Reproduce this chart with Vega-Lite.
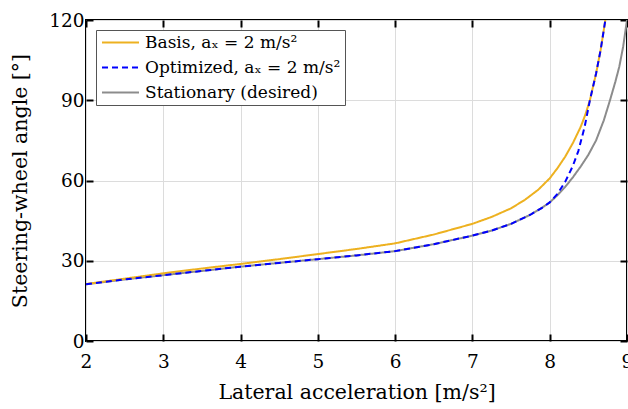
{
  "$schema": "https://vega.github.io/schema/vega-lite/v6.json",
  "width": 541,
  "height": 321,
  "autosize": {"type": "none"},
  "padding": {"left": 86, "top": 20, "right": 1, "bottom": 68},
  "background": "white",
  "config": {
    "font": "DejaVu Serif",
    "view": {"stroke": "black", "strokeWidth": 2},
    "axis": {
      "labelFont": "DejaVu Serif",
      "labelFontSize": 18.5,
      "labelColor": "black",
      "labelFlush": false,
      "titleFont": "DejaVu Serif",
      "titleFontSize": 20.5,
      "titleFontWeight": "normal",
      "titleColor": "black",
      "gridColor": "#dcdcdc",
      "gridWidth": 1,
      "domain": false,
      "tickColor": "black",
      "tickWidth": 2,
      "tickSize": -7
    },
    "legend": {
      "labelFont": "DejaVu Serif",
      "labelFontSize": 17,
      "labelColor": "black",
      "labelLimit": 400
    }
  },
  "datasets": {
    "curves": [
      {"s": "Stationary (desired)", "x": 2, "y": 21.2},
      {"s": "Stationary (desired)", "x": 2.5, "y": 23.0},
      {"s": "Stationary (desired)", "x": 3, "y": 24.6},
      {"s": "Stationary (desired)", "x": 3.5, "y": 26.2},
      {"s": "Stationary (desired)", "x": 4, "y": 27.8},
      {"s": "Stationary (desired)", "x": 4.5, "y": 29.2},
      {"s": "Stationary (desired)", "x": 5, "y": 30.6},
      {"s": "Stationary (desired)", "x": 5.5, "y": 32.0},
      {"s": "Stationary (desired)", "x": 6, "y": 33.6},
      {"s": "Stationary (desired)", "x": 6.5, "y": 36.2},
      {"s": "Stationary (desired)", "x": 7, "y": 39.4},
      {"s": "Stationary (desired)", "x": 7.25, "y": 41.3},
      {"s": "Stationary (desired)", "x": 7.5, "y": 43.8},
      {"s": "Stationary (desired)", "x": 7.75, "y": 47.2},
      {"s": "Stationary (desired)", "x": 7.9, "y": 49.8},
      {"s": "Stationary (desired)", "x": 8, "y": 51.8},
      {"s": "Stationary (desired)", "x": 8.1, "y": 54.5},
      {"s": "Stationary (desired)", "x": 8.2, "y": 57.6},
      {"s": "Stationary (desired)", "x": 8.3, "y": 61.2},
      {"s": "Stationary (desired)", "x": 8.4, "y": 65.2},
      {"s": "Stationary (desired)", "x": 8.5, "y": 69.6},
      {"s": "Stationary (desired)", "x": 8.6, "y": 75.0},
      {"s": "Stationary (desired)", "x": 8.7, "y": 82.5},
      {"s": "Stationary (desired)", "x": 8.78, "y": 90.0},
      {"s": "Stationary (desired)", "x": 8.85, "y": 97.0},
      {"s": "Stationary (desired)", "x": 8.9, "y": 102.5},
      {"s": "Stationary (desired)", "x": 8.95, "y": 110.0},
      {"s": "Stationary (desired)", "x": 9.0, "y": 120.0},

      {"s": "Basis,  aₓ = 2 m/s²", "x": 2, "y": 21.3},
      {"s": "Basis,  aₓ = 2 m/s²", "x": 2.5, "y": 23.3},
      {"s": "Basis,  aₓ = 2 m/s²", "x": 3, "y": 25.3},
      {"s": "Basis,  aₓ = 2 m/s²", "x": 3.5, "y": 27.1},
      {"s": "Basis,  aₓ = 2 m/s²", "x": 4, "y": 28.8},
      {"s": "Basis,  aₓ = 2 m/s²", "x": 4.5, "y": 30.6},
      {"s": "Basis,  aₓ = 2 m/s²", "x": 5, "y": 32.5},
      {"s": "Basis,  aₓ = 2 m/s²", "x": 5.5, "y": 34.4},
      {"s": "Basis,  aₓ = 2 m/s²", "x": 6, "y": 36.5},
      {"s": "Basis,  aₓ = 2 m/s²", "x": 6.5, "y": 39.8},
      {"s": "Basis,  aₓ = 2 m/s²", "x": 7, "y": 43.8},
      {"s": "Basis,  aₓ = 2 m/s²", "x": 7.25, "y": 46.4},
      {"s": "Basis,  aₓ = 2 m/s²", "x": 7.5, "y": 49.6},
      {"s": "Basis,  aₓ = 2 m/s²", "x": 7.68, "y": 52.8},
      {"s": "Basis,  aₓ = 2 m/s²", "x": 7.85, "y": 56.5},
      {"s": "Basis,  aₓ = 2 m/s²", "x": 8, "y": 60.8},
      {"s": "Basis,  aₓ = 2 m/s²", "x": 8.1, "y": 64.6},
      {"s": "Basis,  aₓ = 2 m/s²", "x": 8.2, "y": 68.9},
      {"s": "Basis,  aₓ = 2 m/s²", "x": 8.3, "y": 74.0},
      {"s": "Basis,  aₓ = 2 m/s²", "x": 8.4, "y": 80.0},
      {"s": "Basis,  aₓ = 2 m/s²", "x": 8.46, "y": 84.5},
      {"s": "Basis,  aₓ = 2 m/s²", "x": 8.52, "y": 90.0},
      {"s": "Basis,  aₓ = 2 m/s²", "x": 8.6, "y": 100.0},
      {"s": "Basis,  aₓ = 2 m/s²", "x": 8.66, "y": 109.0},
      {"s": "Basis,  aₓ = 2 m/s²", "x": 8.72, "y": 120.0},

      {"s": "Optimized, aₓ = 2 m/s²", "x": 2, "y": 21.2},
      {"s": "Optimized, aₓ = 2 m/s²", "x": 2.5, "y": 23.0},
      {"s": "Optimized, aₓ = 2 m/s²", "x": 3, "y": 24.6},
      {"s": "Optimized, aₓ = 2 m/s²", "x": 3.5, "y": 26.2},
      {"s": "Optimized, aₓ = 2 m/s²", "x": 4, "y": 27.8},
      {"s": "Optimized, aₓ = 2 m/s²", "x": 4.5, "y": 29.2},
      {"s": "Optimized, aₓ = 2 m/s²", "x": 5, "y": 30.6},
      {"s": "Optimized, aₓ = 2 m/s²", "x": 5.5, "y": 32.0},
      {"s": "Optimized, aₓ = 2 m/s²", "x": 6, "y": 33.6},
      {"s": "Optimized, aₓ = 2 m/s²", "x": 6.5, "y": 36.2},
      {"s": "Optimized, aₓ = 2 m/s²", "x": 7, "y": 39.4},
      {"s": "Optimized, aₓ = 2 m/s²", "x": 7.25, "y": 41.3},
      {"s": "Optimized, aₓ = 2 m/s²", "x": 7.5, "y": 43.8},
      {"s": "Optimized, aₓ = 2 m/s²", "x": 7.75, "y": 47.2},
      {"s": "Optimized, aₓ = 2 m/s²", "x": 7.9, "y": 49.8},
      {"s": "Optimized, aₓ = 2 m/s²", "x": 8, "y": 51.8},
      {"s": "Optimized, aₓ = 2 m/s²", "x": 8.1, "y": 55.0},
      {"s": "Optimized, aₓ = 2 m/s²", "x": 8.2, "y": 59.5},
      {"s": "Optimized, aₓ = 2 m/s²", "x": 8.3, "y": 65.5},
      {"s": "Optimized, aₓ = 2 m/s²", "x": 8.37, "y": 71.0},
      {"s": "Optimized, aₓ = 2 m/s²", "x": 8.45, "y": 79.8},
      {"s": "Optimized, aₓ = 2 m/s²", "x": 8.52, "y": 90.0},
      {"s": "Optimized, aₓ = 2 m/s²", "x": 8.6, "y": 100.0},
      {"s": "Optimized, aₓ = 2 m/s²", "x": 8.66, "y": 109.0},
      {"s": "Optimized, aₓ = 2 m/s²", "x": 8.72, "y": 120.0}
    ]
  },
  "data": {"name": "curves"},
  "layer": [
    {
      "transform": [{"filter": "datum.s === 'Stationary (desired)'"}],
      "mark": {"type": "line", "strokeWidth": 2, "clip": true},
      "encoding": {
        "x": {"field": "x", "type": "quantitative", "scale": {"domain": [2, 9], "nice": false},
          "axis": {"orient": "bottom", "values": [2,3,4,5,6,7,8,9], "title": "Lateral acceleration [m/s²]", "labelPadding": 18, "titlePadding": 12, "grid": true}},
        "y": {"field": "y", "type": "quantitative", "scale": {"domain": [0, 120], "nice": false},
          "axis": {"orient": "left", "values": [0,30,60,90,120], "title": "Steering-wheel angle [°]", "labelPadding": 9, "titlePadding": 18, "grid": true}},
        "color": {"field": "s", "type": "nominal",
          "scale": {"domain": ["Basis,  aₓ = 2 m/s²", "Optimized, aₓ = 2 m/s²", "Stationary (desired)"], "range": ["#EDB120", "#0000FF", "#8C8C8C"]},
          "legend": {"title": null, "orient": "none", "legendX": 10, "legendY": 10, "fillColor": "white", "strokeColor": "#555555", "padding": 4, "symbolType": "M-3,0H3", "symbolSize": 152, "symbolOffset": 12, "symbolStrokeWidth": 2, "labelOffset": 16, "rowPadding": 7}},
        "strokeDash": {"field": "s", "type": "nominal",
          "scale": {"domain": ["Basis,  aₓ = 2 m/s²", "Optimized, aₓ = 2 m/s²", "Stationary (desired)"], "range": [[1, 0], [6, 4], [1, 0]]},
          "legend": {"title": null, "orient": "none", "legendX": 10, "legendY": 10, "fillColor": "white", "strokeColor": "#555555", "padding": 4, "symbolType": "M-3,0H3", "symbolSize": 152, "symbolOffset": 12, "symbolStrokeWidth": 2, "labelOffset": 16, "rowPadding": 7}}
      }
    },
    {
      "transform": [{"filter": "datum.s === 'Basis,  aₓ = 2 m/s²'"}],
      "mark": {"type": "line", "strokeWidth": 2, "clip": true},
      "encoding": {
        "x": {"field": "x", "type": "quantitative", "axis": {"orient": "top", "values": [2,3,4,5,6,7,8,9], "labels": false, "title": null, "grid": false}},
        "y": {"field": "y", "type": "quantitative", "axis": {"orient": "right", "values": [0,30,60,90,120], "labels": false, "title": null, "grid": false}},
        "color": {"field": "s", "type": "nominal"},
        "strokeDash": {"field": "s", "type": "nominal"}
      }
    },
    {
      "transform": [{"filter": "datum.s === 'Optimized, aₓ = 2 m/s²'"}],
      "mark": {"type": "line", "strokeWidth": 2, "clip": true},
      "encoding": {
        "x": {"field": "x", "type": "quantitative", "axis": null},
        "y": {"field": "y", "type": "quantitative", "axis": null},
        "color": {"field": "s", "type": "nominal"},
        "strokeDash": {"field": "s", "type": "nominal"}
      }
    }
  ],
  "resolve": {"axis": {"x": "independent", "y": "independent"}}
}
